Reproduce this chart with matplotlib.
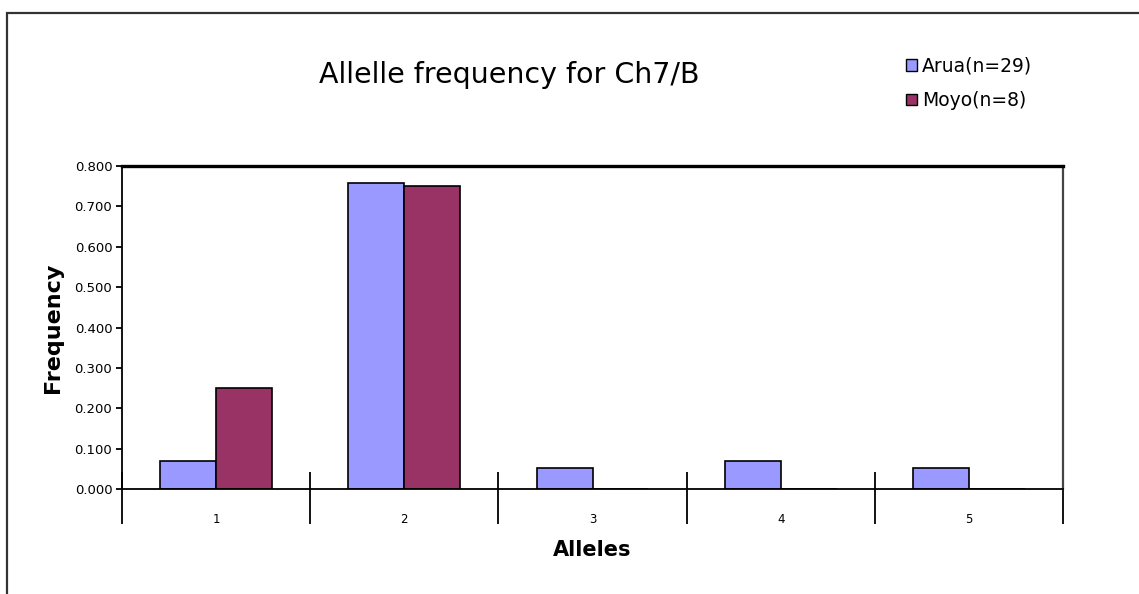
import matplotlib.pyplot as plt
import numpy as np
from matplotlib.patches import Rectangle, Patch

alleles = ["1", "2", "3", "4", "5"]
arua = [0.069, 0.759, 0.052, 0.069, 0.052]
moyo = [0.250, 0.750, 0.0, 0.0, 0.0]
series_labels = ["Arua(n=29)", "Moyo(n=8)"]
yticks = [0.0, 0.1, 0.2, 0.3, 0.4, 0.5, 0.6, 0.7, 0.8]


def main():
    fig = plt.figure(figsize=(11.39, 5.94), dpi=100)
    ax = fig.add_axes([0.1071, 0.1768, 0.8262, 0.5437])

    x = np.arange(len(alleles))
    w = 0.297
    ax.bar(x - w / 2, arua, w, color='#9999FF', edgecolor='black', linewidth=1.2)
    ax.bar(x + w / 2, moyo, w, color='#993366', edgecolor='black', linewidth=1.2)

    ax.set_xlim(-0.5, len(alleles) - 0.5)
    ax.set_ylim(0, 0.8)

    # category separators below the axis, labels centred in each category
    ax.set_xticks(np.arange(len(alleles) + 1) - 0.5)
    ax.set_xticklabels([])
    ax.tick_params(axis='x', which='major', direction='out', length=25, width=1.3)
    ax.set_xticks(x, minor=True)
    ax.set_xticklabels(alleles, minor=True, fontsize=8.5)
    ax.tick_params(axis='x', which='minor', length=0, pad=17)

    # short part of the separators above the axis
    sec = ax.secondary_xaxis('bottom')
    sec.set_xticks(np.arange(len(alleles) + 1) - 0.5)
    sec.set_xticklabels([])
    sec.tick_params(direction='in', length=12, width=1.3)
    sec.spines['bottom'].set_visible(False)

    ax.set_yticks(yticks)
    ax.set_yticklabels([f'{v:.3f}' for v in yticks], fontsize=9.5)
    ax.tick_params(axis='y', direction='out', length=4, width=1.3, pad=3)

    ax.spines['top'].set_linewidth(2.4)
    ax.spines['top'].set_color('black')
    ax.spines['right'].set_linewidth(1.6)
    ax.spines['right'].set_color('#444444')
    ax.spines['left'].set_linewidth(1.3)
    ax.spines['bottom'].set_linewidth(1.3)

    ax.set_ylabel('Frequency', fontsize=16, fontweight='bold', labelpad=8)
    ax.set_xlabel('Alleles', fontsize=15, fontweight='bold', labelpad=8)

    fig.text(0.447, 0.873, 'Allelle frequency for Ch7/B', fontsize=20.5,
             ha='center', va='center')

    handles = [Patch(facecolor='#9999FF', edgecolor='black'),
               Patch(facecolor='#993366', edgecolor='black')]
    fig.legend(handles, series_labels, loc='upper left',
               bbox_to_anchor=(0.789, 0.918), frameon=False, fontsize=13.5,
               handlelength=0.6, handleheight=0.6, handletextpad=0.25,
               labelspacing=0.85, borderaxespad=0)

    # outer chart frame (left and top edges visible)
    fig.patches.append(Rectangle((7 / 1139, -0.2), 1.2, 1.2 - 13 / 594,
                                 transform=fig.transFigure, fill=False,
                                 edgecolor='#333333', linewidth=1.6))

    fig.savefig('out.png', dpi=100)


if __name__ == "__main__":
    main()
